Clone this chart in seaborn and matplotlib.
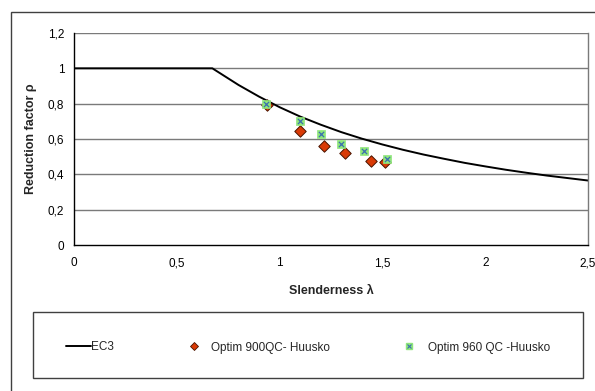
import matplotlib
matplotlib.use("Agg")
import matplotlib.pyplot as plt
import seaborn as sns
import pandas as pd
from matplotlib.patches import Rectangle
from matplotlib.lines import Line2D
from matplotlib.legend_handler import HandlerTuple

# ---- data ----
ec3_lambda = [0.0, 0.673, 0.8, 0.9, 1.0, 1.1, 1.2, 1.3, 1.4, 1.5, 1.6, 1.7, 1.8,
              1.9, 2.0, 2.1, 2.2, 2.3, 2.4, 2.5]
ec3_rho = [1.0, 1.0, 0.906, 0.840, 0.780, 0.727, 0.681, 0.639, 0.602, 0.569, 0.539,
           0.512, 0.488, 0.465, 0.445, 0.426, 0.409, 0.393, 0.379, 0.365]

q900_lambda = [0.937, 1.10, 1.216, 1.317, 1.445, 1.513]
q900_rho = [0.791, 0.644, 0.559, 0.522, 0.478, 0.471]

q960_lambda = [0.932, 1.10, 1.20, 1.30, 1.409, 1.524]
q960_rho = [0.800, 0.700, 0.631, 0.569, 0.531, 0.488]

x_ticks = [0, 0.5, 1, 1.5, 2, 2.5]
x_ticklabels = ["0", "0,5", "1", "1,5", "2", "2,5"]
y_ticks = [0, 0.2, 0.4, 0.6, 0.8, 1.0, 1.2]
y_ticklabels = ["0", "0,2", "0,4", "0,6", "0,8", "1", "1,2"]

labels = ["EC3", "Optim 900QC- Huusko", "Optim 960 QC -Huusko"]

# ---- styling ----
sns.set_theme(style="white")
plt.rcParams["font.family"] = ["Liberation Sans", "DejaVu Sans"]

W, H = 595, 391
fig = plt.figure(figsize=(W / 100, H / 100), dpi=100)
ax = fig.add_axes([74 / W, 1 - 245 / H, (588 - 74) / W, (245 - 33) / H])

df_ec3 = pd.DataFrame({"lam": ec3_lambda, "rho": ec3_rho})
df_900 = pd.DataFrame({"lam": q900_lambda, "rho": q900_rho})
df_960 = pd.DataFrame({"lam": q960_lambda, "rho": q960_rho})

for y in y_ticks[1:]:
    ax.axhline(y, color="#7a7a7a", lw=1.0, zorder=0)

sns.lineplot(data=df_ec3, x="lam", y="rho", ax=ax, color="black", lw=1.4,
             sort=False, zorder=2)
sns.scatterplot(data=df_900, x="lam", y="rho", ax=ax, marker="D", s=34,
                color="#d93a06", edgecolor="#4a1500", linewidth=0.7, zorder=3)
sns.scatterplot(data=df_960, x="lam", y="rho", ax=ax, marker="s", s=30,
                color="#8fe67a", edgecolor="#8fe67a", linewidth=0.5, zorder=4)
sns.scatterplot(data=df_960, x="lam", y="rho", ax=ax, marker="x", s=14,
                color="#3b6fb0", linewidth=0.9, zorder=5)

ax.set_xlim(0, 2.5)
ax.set_ylim(0, 1.2)
ax.set_xticks(x_ticks)
ax.set_xticklabels(x_ticklabels)
ax.set_yticks(y_ticks)
ax.set_yticklabels(y_ticklabels)
ax.tick_params(axis="both", direction="out", length=4, width=1, colors="black",
               labelsize=8.5, pad=3)
ax.tick_params(axis="x", pad=5)
ax.set_xlabel("Slenderness λ", fontsize=9, fontweight="bold", labelpad=11)
ax.set_ylabel("Reduction factor ρ", fontsize=9, fontweight="bold", labelpad=8)

for s in ["left", "bottom"]:
    ax.spines[s].set_color("black")
    ax.spines[s].set_linewidth(1.0)
ax.spines["top"].set_visible(False)
ax.spines["right"].set_color("#7a7a7a")
ax.spines["right"].set_linewidth(1.0)

# outer chart frame (cut off at right and bottom as in reference)
fig.patches.append(Rectangle((11 / W, -0.05), 1.2, 1 - 12 / H + 0.05,
                             transform=fig.transFigure, fill=False,
                             edgecolor="#404040", lw=1.0))

# legend box
fig.patches.append(Rectangle((33 / W, 1 - 378 / H), (583 - 33) / W, (378 - 312) / H,
                             transform=fig.transFigure, fill=False,
                             edgecolor="#404040", lw=1.0))

h_line = Line2D([], [], color="black", lw=1.4)
h_d = Line2D([], [], marker="D", ls="none", markersize=4.0,
             markerfacecolor="#d93a06", markeredgecolor="#4a1500", markeredgewidth=0.6)
h_s = (Line2D([], [], marker="s", ls="none", markersize=4.3,
              markerfacecolor="#8fe67a", markeredgecolor="#8fe67a"),
       Line2D([], [], marker="x", ls="none", markersize=3.0,
              markeredgecolor="#3b6fb0", markeredgewidth=0.8))

ly = 1 - 347.5 / H
leg_specs = [(h_line, labels[0], 66 / W, 2.12, 0.0),
             (h_d, labels[1], 188 / W, 1.0, 0.95),
             (h_s, labels[2], 403 / W, 1.0, 1.1)]
for handle, lab, x, hl, tp in leg_specs:
    fig.legend([handle], [lab], loc="center left", bbox_to_anchor=(x, ly),
               frameon=False, fontsize=8.5, handlelength=hl, handletextpad=tp,
               borderpad=0, borderaxespad=0,
               handler_map={tuple: HandlerTuple(ndivide=1, pad=0)})

fig.savefig("out.png", dpi=100)
